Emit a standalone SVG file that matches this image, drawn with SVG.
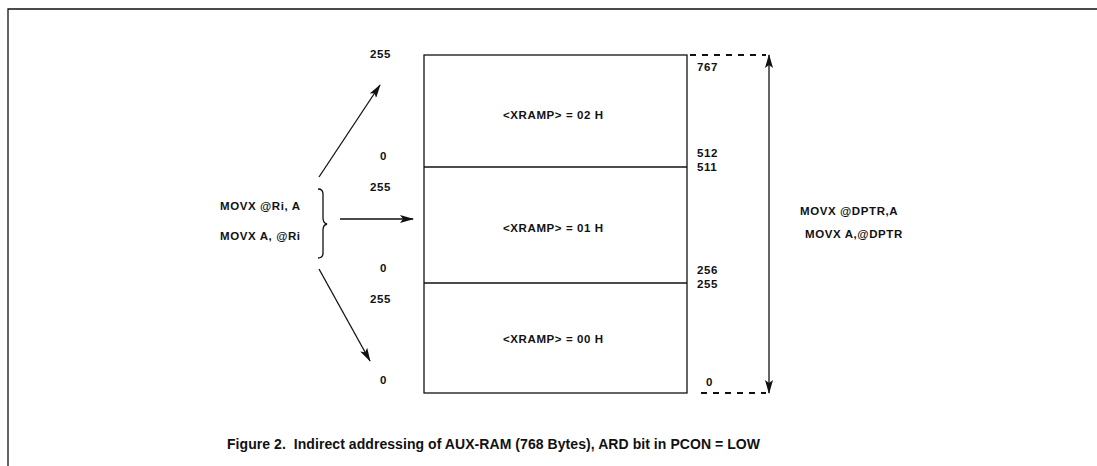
<svg xmlns="http://www.w3.org/2000/svg" width="1097" height="466" viewBox="0 0 1097 466">
<style>
text{font-family:"Liberation Sans",Arial,sans-serif;font-weight:bold;fill:#111;font-size:11.5px;letter-spacing:0.6px}
.cap{font-size:14px;letter-spacing:0}
.ln{stroke:#111;stroke-width:1.3;fill:none}
.dash{stroke:#111;stroke-width:2;stroke-dasharray:6,6;fill:none}
</style>
<defs>
<marker id="ah" viewBox="0 0 14 8" refX="13" refY="4" markerWidth="14" markerHeight="8" markerUnits="userSpaceOnUse" orient="auto">
<path d="M0,0 L14,4 L0,8 L3,4 Z" fill="#111"/>
</marker>
</defs>
<rect width="1097" height="466" fill="#fff"/>
<g id="frame">
<path class="ln" d="M8,466 V9 H1097"/>
</g>
<g id="memory">
<rect x="424" y="55" width="263" height="338" class="ln"/>
<line x1="424" y1="167" x2="687" y2="167" class="ln"/>
<line x1="424" y1="283" x2="687" y2="283" class="ln"/>
</g>
<g id="page2"><text x="503" y="119">&lt;XRAMP&gt; = 02 H</text></g>
<g id="page1"><text x="503" y="232">&lt;XRAMP&gt; = 01 H</text></g>
<g id="page0"><text x="503" y="343">&lt;XRAMP&gt; = 00 H</text></g>
<g id="addr-right">
<text x="697" y="71">767</text>
<text x="697" y="157">512</text>
<text x="697" y="171">511</text>
<text x="697" y="274">256</text>
<text x="697" y="288">255</text>
<text x="706" y="386">0</text>
</g>
<g id="addr-left">
<text x="370" y="58">255</text>
<text x="380" y="160">0</text>
<text x="370" y="191">255</text>
<text x="380" y="272">0</text>
<text x="370" y="303">255</text>
<text x="380" y="384">0</text>
</g>
<g id="ri-instr">
<text x="220" y="210">MOVX @Ri, A</text>
<text x="220" y="240">MOVX A, @Ri</text>
<path class="ln" d="M318,189 Q323,189 323,194 L323,218 Q323,223 327,224 Q323,225 323,230 L323,253 Q323,258 318,258"/>
</g>
<g id="dptr-instr">
<text x="800" y="215">MOVX @DPTR,A</text>
<text x="805" y="238">MOVX A,@DPTR</text>
</g>
<g id="connectors">
<line x1="319" y1="177" x2="380" y2="85" class="ln" marker-end="url(#ah)"/>
<line x1="340" y1="219" x2="413" y2="219" class="ln" marker-end="url(#ah)"/>
<line x1="319" y1="269" x2="370" y2="361" class="ln" marker-end="url(#ah)"/>
<line x1="769" y1="224" x2="769" y2="55" class="ln" marker-end="url(#ah)"/>
<line x1="769" y1="224" x2="769" y2="393" class="ln" marker-end="url(#ah)"/>
<line x1="690" y1="55" x2="766" y2="55" class="dash"/>
<line x1="701" y1="393" x2="766" y2="393" class="dash"/>
</g>
<g id="caption">
<text class="cap" x="227" y="449" textLength="533">Figure 2.&#160; Indirect addressing of AUX-RAM (768 Bytes), ARD bit in PCON = LOW</text>
</g>
</svg>
